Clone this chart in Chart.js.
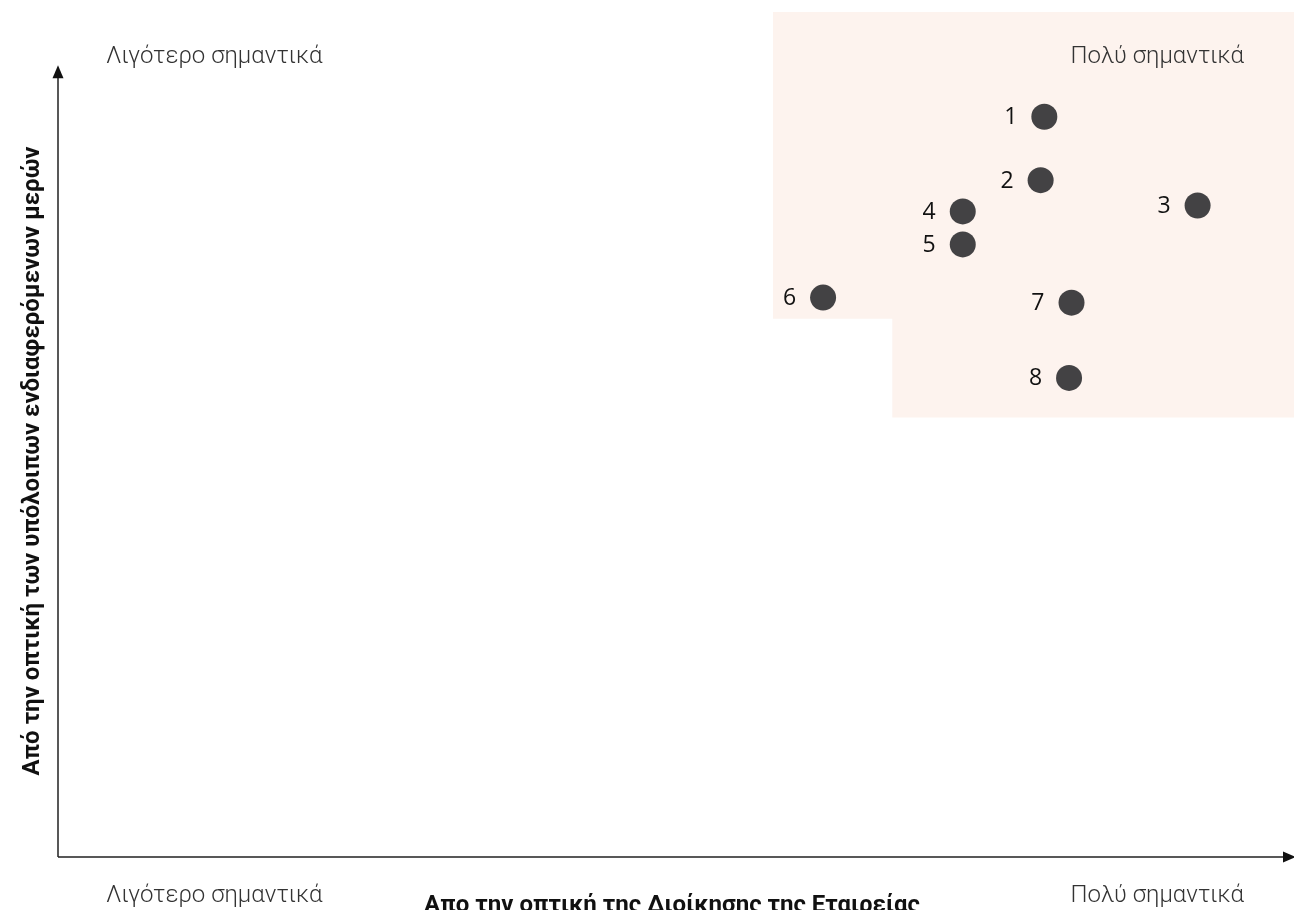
<!DOCTYPE html>
<html>
<head>
<meta charset="utf-8">
<title>Πίνακας ουσιαστικότητας</title>
<script src="https://cdn.jsdelivr.net/npm/chart.js@4.4.1/dist/chart.umd.min.js"></script>
<style>
  html, body { margin: 0; padding: 0; background: #ffffff; }
  #wrap { width: 1294px; height: 910px; position: relative; }
</style>
</head>
<body>
<div id="wrap"><canvas id="matrix"></canvas></div>
<script>
// Θέματα (αριθμός, διοίκηση = x, ενδιαφερόμενα μέρη = y)
const topicLabels = ['1', '2', '3', '4', '5', '6', '7', '8'];
const managementScores = [7.98, 7.95, 9.22, 7.32, 7.32, 6.19, 8.20, 8.18];
const stakeholderScores = [8.76, 8.01, 7.71, 7.64, 7.25, 6.62, 6.56, 5.67];

// Όρια της σκιασμένης περιοχής (υψηλή σημαντικότητα)
const zoneX = [5.785, 6.75, 10];
const zoneY = [5.20, 6.37, 10];

const axisMax = 10;
const yArrowEnd = 9.37;

const lowLabel = 'Λιγότερο σημαντικά';
const highLabel = 'Πολύ σημαντικά';
const xTitle = 'Απο την οπτική της Διοίκησης της Εταιρείας';
const yTitle = 'Από την οπτική των υπόλοιπων ενδιαφερόμενων μερών';

const points = managementScores.map((x, i) => ({ x: x, y: stakeholderScores[i] }));

const zonePlugin = {
    id: 'zone',
    beforeDatasetsDraw(chart) {
        const { ctx, scales: { x, y } } = chart;
        ctx.save();
        ctx.fillStyle = '#fdf3ee';
        ctx.beginPath();
        ctx.moveTo(x.getPixelForValue(zoneX[0]), y.getPixelForValue(zoneY[2]));
        ctx.lineTo(x.getPixelForValue(zoneX[2]), y.getPixelForValue(zoneY[2]));
        ctx.lineTo(x.getPixelForValue(zoneX[2]), y.getPixelForValue(zoneY[0]));
        ctx.lineTo(x.getPixelForValue(zoneX[1]), y.getPixelForValue(zoneY[0]));
        ctx.lineTo(x.getPixelForValue(zoneX[1]), y.getPixelForValue(zoneY[1]));
        ctx.lineTo(x.getPixelForValue(zoneX[0]), y.getPixelForValue(zoneY[1]));
        ctx.closePath();
        ctx.fill();
        ctx.restore();
    }
};

const axesPlugin = {
    id: 'axesArrows',
    afterDraw(chart) {
        const { ctx, scales: { x, y } } = chart;
        const x0 = x.getPixelForValue(0);
        const y0 = y.getPixelForValue(0);
        const yTop = y.getPixelForValue(yArrowEnd);
        const xEnd = x.getPixelForValue(axisMax);
        ctx.save();
        ctx.strokeStyle = '#222';
        ctx.fillStyle = '#111';
        ctx.lineWidth = 1.5;
        ctx.beginPath();
        ctx.moveTo(x0, y0);
        ctx.lineTo(x0, yTop + 10);
        ctx.moveTo(x0, y0);
        ctx.lineTo(xEnd - 8, y0);
        ctx.stroke();
        // arrow heads
        ctx.beginPath();
        ctx.moveTo(x0, yTop);
        ctx.lineTo(x0 - 5.5, yTop + 13);
        ctx.lineTo(x0 + 5.5, yTop + 13);
        ctx.closePath();
        ctx.fill();
        ctx.beginPath();
        ctx.moveTo(xEnd + 2, y0);
        ctx.lineTo(xEnd - 11, y0 - 5.5);
        ctx.lineTo(xEnd - 11, y0 + 5.5);
        ctx.closePath();
        ctx.fill();

        // corner labels
        ctx.fillStyle = '#333';
        ctx.font = '300 24px Roboto';
        ctx.textBaseline = 'middle';
        ctx.textAlign = 'left';
        ctx.fillText(lowLabel, 106, 57);
        ctx.fillText(lowLabel, 106, 896);
        ctx.textAlign = 'right';
        ctx.fillText(highLabel, 1244, 57);
        ctx.fillText(highLabel, 1244, 896);

        // axis titles
        ctx.fillStyle = '#111';
        ctx.font = 'bold 24px Roboto';
        ctx.textAlign = 'center';
        ctx.textBaseline = 'alphabetic';
        ctx.fillText(xTitle, 672, 912);
        ctx.save();
        ctx.translate(39, 461);
        ctx.rotate(-Math.PI / 2);
        ctx.fillText(yTitle, 0, 0);
        ctx.restore();
        ctx.restore();
    }
};

const pointLabelPlugin = {
    id: 'pointLabels',
    afterDatasetsDraw(chart) {
        const { ctx } = chart;
        const meta = chart.getDatasetMeta(0);
        ctx.save();
        ctx.fillStyle = '#111';
        ctx.font = '23px "Open Sans"';
        ctx.textAlign = 'right';
        ctx.textBaseline = 'middle';
        meta.data.forEach((el, i) => {
            ctx.fillText(topicLabels[i], el.x - 27, el.y + 1);
        });
        ctx.restore();
    }
};

new Chart(document.getElementById('matrix'), {
    type: 'scatter',
    data: {
        datasets: [{
            label: 'Θέματα',
            data: points,
            backgroundColor: '#434244',
            borderColor: '#434244',
            pointRadius: 13,
            pointHoverRadius: 13,
            borderWidth: 0
        }]
    },
    options: {
        responsive: true,
        maintainAspectRatio: false,
        animation: false,
        layout: { autoPadding: false, padding: { left: 58, right: 0, top: 12, bottom: 53 } },
        plugins: {
            legend: { display: false },
            tooltip: { enabled: false }
        },
        scales: {
            x: { type: 'linear', min: 0, max: axisMax, display: false },
            y: { type: 'linear', min: 0, max: axisMax, display: false }
        }
    },
    plugins: [zonePlugin, axesPlugin, pointLabelPlugin]
});
</script>
</body>
</html>
